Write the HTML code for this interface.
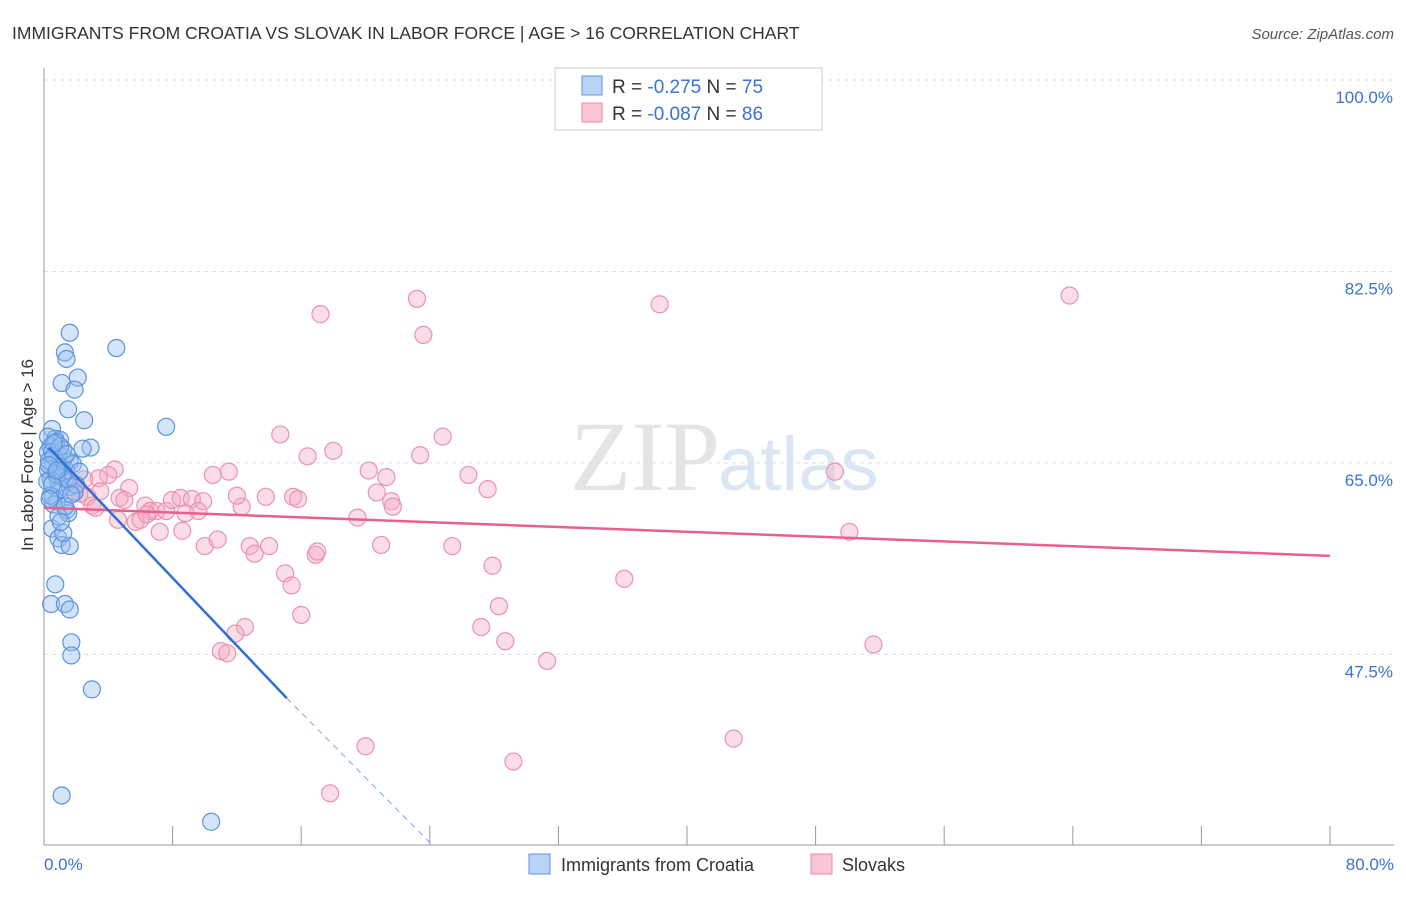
<!DOCTYPE html>
<html><head><meta charset="utf-8"><style>
body{margin:0;background:#fff;font-family:"Liberation Sans",sans-serif}
</style></head><body>
<svg width="1406" height="892" xmlns="http://www.w3.org/2000/svg">
<text x="12" y="39" font-size="17.5" fill="#333">IMMIGRANTS FROM CROATIA VS SLOVAK IN LABOR FORCE | AGE &gt; 16 CORRELATION CHART</text>
<text x="1394" y="39" font-size="15" fill="#555" font-style="italic" text-anchor="end">Source: ZipAtlas.com</text>
<text x="720" y="490" font-size="100" fill="#e4e4e4" text-anchor="end" font-family="Liberation Serif">ZIP</text>
<text x="718" y="490" font-size="76" fill="#dbe6f5">atlas</text>
<g id="grid"></g>
<line x1="44" y1="68" x2="44" y2="845" stroke="#999"/>
<line x1="44" y1="845" x2="1394" y2="845" stroke="#999"/>
<g id="ticks"></g>
<g id="pink"></g><g id="blue"></g><g id="lines"></g>
<text x="-455" y="33" transform="rotate(-90)" font-size="17" fill="#333" text-anchor="middle">In Labor Force | Age &gt; 16</text>
<text x="44" y="870" font-size="17" fill="#3a72d6">0.0%</text>
<text x="1394" y="870" font-size="17" fill="#3a72d6" text-anchor="end">80.0%</text>
<g>
<rect x="555" y="68" width="267" height="62" fill="#fff" stroke="#ccc"/>
<rect x="582" y="76" width="20" height="19" fill="#b9d3f5" stroke="#5b93e0"/>
<rect x="582" y="103" width="20" height="19" fill="#f9c6d4" stroke="#e88aa6"/>
<text x="612" y="93" font-size="19" fill="#333">R = <tspan fill="#3a72d6">-0.275</tspan>   N = <tspan fill="#3a72d6">75</tspan></text>
<text x="612" y="120" font-size="19" fill="#333">R = <tspan fill="#3a72d6">-0.087</tspan>   N = <tspan fill="#3a72d6">86</tspan></text>
</g>
<g>
<rect x="529" y="854" width="21" height="20" fill="#b9d3f5" stroke="#5b93e0"/>
<text x="561" y="871" font-size="18" fill="#333">Immigrants from Croatia</text>
<rect x="811" y="854" width="21" height="20" fill="#f9c6d4" stroke="#e88aa6"/>
<text x="842" y="871" font-size="18" fill="#333">Slovaks</text>
</g>
</svg>
<script>
const yTicks=[100,82.5,65,47.5];
const yTickLabels=["100.0%","82.5%","65.0%","47.5%"];
const xTicks=[0,8,16,24,32,40,48,56,64,72,80];
const bluePts=[[1.6,76.9],[4.5,75.5],[1.3,75.1],[1.4,74.5],[2.1,72.8],[1.1,72.3],[1.9,71.7],[1.5,69.9],[2.5,68.9],[7.6,68.3],[0.5,68.1],[0.7,67.2],[1.0,67.1],[2.9,66.4],[2.4,66.3],[0.4,66.5],[0.25,66.0],[0.9,65.8],[1.25,65.5],[1.6,65.1],[0.56,64.9],[1.0,64.6],[0.25,64.4],[1.4,64.3],[0.7,64.0],[1.1,63.7],[0.4,63.5],[0.9,63.2],[1.6,62.8],[1.9,62.3],[0.56,61.9],[0.8,61.5],[1.4,60.7],[1.5,60.4],[0.5,59.0],[0.9,58.1],[1.1,57.5],[1.6,57.4],[0.7,53.9],[0.44,52.1],[1.3,52.1],[1.6,51.6],[1.7,48.6],[1.7,47.4],[2.98,44.3],[1.1,34.6],[10.4,32.2],[0.25,67.4],[0.75,66.9],[0.5,66.0],[1.1,64.6],[0.2,63.3],[1.0,62.6],[0.6,61.2],[0.3,65.2],[1.2,66.2],[0.8,63.9],[1.8,64.9],[0.4,62.0],[1.3,61.0],[0.6,65.6],[1.0,66.5],[1.5,63.5],[0.3,64.8],[2.0,63.0],[0.9,60.1],[1.2,58.6],[0.5,63.0],[0.8,64.3],[1.4,65.8],[0.6,66.8],[1.7,62.1],[2.2,64.2],[0.35,61.7],[1.05,59.6]];
const pinkPts=[[23.2,80.0],[38.3,79.5],[63.8,80.3],[17.2,78.6],[23.6,76.7],[14.7,67.6],[24.8,67.4],[18.0,66.1],[16.4,65.6],[23.4,65.7],[10.5,63.9],[11.5,64.2],[20.2,64.3],[21.3,63.7],[26.4,63.9],[49.2,64.2],[4.4,64.4],[4.0,63.9],[3.4,63.6],[2.5,63.5],[1.7,63.3],[2.2,62.2],[3.5,62.4],[5.3,62.7],[2.7,61.9],[3.0,61.1],[4.7,61.8],[5.0,61.6],[6.3,61.1],[6.6,60.6],[7.0,60.6],[7.6,60.6],[7.96,61.6],[8.5,61.8],[9.2,61.7],[9.9,61.5],[8.8,60.4],[9.6,60.6],[12.3,61.0],[13.8,61.9],[15.5,61.9],[15.8,61.7],[20.7,62.3],[21.6,61.5],[21.7,61.0],[27.6,62.6],[5.7,59.6],[6.0,59.8],[7.2,58.7],[8.6,58.8],[10.0,57.4],[10.8,58.0],[12.8,57.4],[14.0,57.4],[13.1,56.7],[16.9,56.6],[17.0,56.9],[20.97,57.5],[25.4,57.4],[19.5,60.0],[27.9,55.6],[36.1,54.4],[50.1,58.7],[15.0,54.9],[15.4,53.8],[16.0,51.1],[28.3,51.9],[27.2,50.0],[28.7,48.7],[31.3,46.9],[51.6,48.4],[12.5,50.0],[11.9,49.4],[11.0,47.8],[11.4,47.6],[42.9,39.8],[20.0,39.1],[29.2,37.7],[17.8,34.8],[1.0,64.4],[1.3,63.5],[1.9,62.4],[3.2,60.9],[6.4,60.3],[12.0,62.0],[4.6,59.8]];
const blueLine=[[0.3,66.4],[15.1,43.5]];
const blueDash=[[15.1,43.5],[24.2,30.0]];
const pinkLine=[[0,60.9],[80,56.5]];
const X=v=>44+v*16.075, Y=v=>80+(100-v)*10.94;
const NS="http://www.w3.org/2000/svg";
function mk(t,a,p){const e=document.createElementNS(NS,t);for(const k in a)e.setAttribute(k,a[k]);document.getElementById(p).appendChild(e);return e;}
yTicks.forEach((t,i)=>{
 const l=mk('line',{x1:44,x2:1394,y1:Y(t),y2:Y(t),stroke:'#ddd','stroke-dasharray':'4,4'},'grid');
 
 
 const tx=mk('text',{x:1393,y:Y(t)+23,'font-size':17,fill:'#3a72d6','text-anchor':'end'},'grid');
 tx.textContent=yTickLabels[i];
 
 
});
xTicks.forEach(t=>{
 const l=mk('line',{x1:X(t),x2:X(t),y1:826,y2:845,stroke:'#999'},'ticks');
 
 
});
pinkPts.forEach(p=>{
 const c=mk('circle',{cx:X(p[0]),cy:Y(p[1]),r:8.5,fill:'rgba(246,170,192,0.4)',stroke:'#eb92ad','stroke-width':1.2},'pink');
 
 
});
bluePts.forEach(p=>{
 const c=mk('circle',{cx:X(p[0]),cy:Y(p[1]),r:8.5,fill:'rgba(150,190,240,0.4)',stroke:'#5b93e0','stroke-width':1.2},'blue');
 
 
});
let l=mk('line',{x1:X(pinkLine[0][0]),y1:Y(pinkLine[0][1]),x2:X(pinkLine[1][0]),y2:Y(pinkLine[1][1]),stroke:'#e8618c','stroke-width':2.5},'lines');


l=mk('line',{x1:X(blueLine[0][0]),y1:Y(blueLine[0][1]),x2:X(blueLine[1][0]),y2:Y(blueLine[1][1]),stroke:'#2f6fd6','stroke-width':2.5},'lines');


l=mk('line',{x1:X(blueDash[0][0]),y1:Y(blueDash[0][1]),x2:X(blueDash[1][0]),y2:Y(blueDash[1][1]),stroke:'#8fb2e6','stroke-width':1.2,'stroke-dasharray':'6,5'},'lines');


</script>
</body></html>
